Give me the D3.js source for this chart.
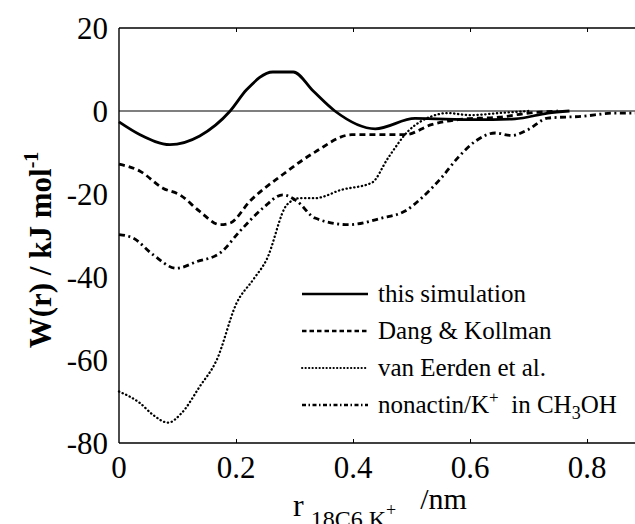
<html lang="en">
<head>
<meta charset="UTF-8">
<title>W(r)</title>
<script src="https://d3js.org/d3.v7.min.js"></script>
<style>
  body { margin: 0; background: #fff; }
  svg { display: block; }
  text { font-family: "Liberation Serif", "Times New Roman", serif; fill: #000; }
</style>
</head>
<body>
<div id="chart"></div>
<script>
// values: r in nm, W(r) in kJ/mol
const simR   = [0, 0.036, 0.087, 0.138, 0.19, 0.218, 0.263, 0.298, 0.332, 0.369, 0.438, 0.506, 0.609, 0.677, 0.733, 0.77];
const simW   = [-2.6, -5.7, -8.1, -6, 0, 5.1, 9.4, 9.4, 4.8, 0, -4.3, -1.8, -2.1, -1.9, -0.5, 0];

const dangR  = [0, 0.036, 0.075, 0.104, 0.138, 0.173, 0.19, 0.224, 0.28, 0.335, 0.398, 0.489, 0.534, 0.592, 0.65, 0.7, 0.75];
const dangW  = [-12.8, -14.5, -18.6, -20.2, -24.2, -27.4, -27, -21.7, -15.3, -9.9, -5.7, -5.7, -3.3, -1.9, -1.5, -0.5, 0];

const eerR   = [0, 0.036, 0.058, 0.084, 0.107, 0.138, 0.167, 0.201, 0.229, 0.252, 0.287, 0.309, 0.335, 0.38, 0.432, 0.46, 0.494, 0.534, 0.562, 0.6, 0.65, 0.7];
const eerW   = [-67.6, -70.4, -73.2, -75.1, -72.8, -66.4, -60, -46.3, -40.7, -35.9, -22.6, -21, -21, -19, -17.3, -11.3, -4.9, -1.3, -0.5, -1, -0.5, 0];

const nonR   = [0, 0.024, 0.058, 0.098, 0.133, 0.173, 0.207, 0.246, 0.28, 0.304, 0.335, 0.392, 0.449, 0.489, 0.517, 0.551, 0.579, 0.609, 0.643, 0.671, 0.699, 0.733, 0.79, 0.848, 0.9];
const nonW   = [-29.8, -30.6, -34.6, -37.9, -36.3, -34.2, -28.9, -23.4, -20.2, -21.7, -25.8, -27.4, -25.8, -24.1, -21, -16.1, -11.3, -7.3, -5.3, -5.9, -4.5, -1.7, -1.3, -0.5, -0.5];

const xTicks = [0, 0.2, 0.4, 0.6, 0.8];
const yTicks = [20, 0, -20, -40, -60, -80];
const seriesNames = ["this simulation", "Dang & Kollman", "van Eerden et al.", "nonactin/K+ in CH3OH"];

const W = 635, H = 524;
const margin = { top: 28, right: 0, bottom: 81, left: 119 };
const width = W - margin.left - margin.right,
      height = H - margin.top - margin.bottom;

const x = d3.scaleLinear().domain([0, 0.882]).range([0, width]);
const y = d3.scaleLinear().domain([-80, 20]).range([height, 0]);

const svg = d3.select("#chart").append("svg")
  .attr("width", W).attr("height", H);
const g = svg.append("g")
  .attr("transform", "translate(" + margin.left + "," + margin.top + ")");

// frame with inward ticks
g.append("g").attr("transform", "translate(0," + height + ")")
  .call(d3.axisTop(x).tickValues(xTicks.slice(1)).tickSize(4).tickFormat(""))
  .call(a => a.select(".domain").attr("d", "M0,0H" + width));
g.append("g")
  .call(d3.axisBottom(x).tickValues(xTicks.slice(1)).tickSize(4).tickFormat(""))
  .call(a => a.select(".domain").attr("d", "M0,0H" + width));
g.append("g")
  .call(d3.axisRight(y).tickValues(yTicks).tickSize(0).tickFormat(""))
  .call(a => a.select(".domain").attr("d", "M0,0V" + height));
g.selectAll(".domain").attr("stroke", "#000").attr("stroke-width", 1.4);
g.selectAll(".tick line").attr("stroke", "#000").attr("stroke-width", 1);

// tick labels
g.selectAll(".xlab").data(xTicks).join("text")
  .attr("x", d => x(d)).attr("y", height + 35)
  .attr("text-anchor", "middle").attr("font-size", 31)
  .text(d => d === 0 ? "0" : d3.format(".1f")(d));
g.selectAll(".ylab").data(yTicks).join("text")
  .attr("x", -11).attr("y", d => y(d) + 11)
  .attr("text-anchor", "end").attr("font-size", 31)
  .text(d => d);

// zero line
g.append("line")
  .attr("x1", 0).attr("x2", width).attr("y1", y(0)).attr("y2", y(0))
  .attr("stroke", "#000").attr("stroke-width", 1.2);

const line = d3.line().x(d => x(d[0])).y(d => y(d[1])).curve(d3.curveMonotoneX);
const styles = [
  { dash: null, w: 2.8, cap: "butt" },
  { dash: "6,4", w: 2.8, cap: "butt" },
  { dash: "0.3,3.6", w: 2.3, cap: "round" },
  { dash: "6,3.5,2,3.5", w: 2.8, cap: "butt" }
];
const legDash = [null, "4.5,3", "0.3,3.2", "4,2.5,1.5,2.5"];
const series = [d3.zip(simR, simW), d3.zip(dangR, dangW), d3.zip(eerR, eerW), d3.zip(nonR, nonW)];

series.forEach((s, i) => {
  g.append("path").datum(s)
    .attr("fill", "none").attr("stroke", "#000")
    .attr("stroke-width", styles[i].w)
    .attr("stroke-linecap", styles[i].cap)
    .attr("stroke-dasharray", styles[i].dash)
    .attr("d", line);
});

// legend
const leg = svg.append("g").attr("transform", "translate(302,294)");
seriesNames.forEach((name, i) => {
  const row = leg.append("g").attr("transform", "translate(0," + (i * 37) + ")");
  row.append("line").attr("x1", 0).attr("x2", 66).attr("y1", 0).attr("y2", 0)
    .attr("stroke", "#000").attr("stroke-width", i === 2 ? 2 : 2.4)
    .attr("stroke-linecap", styles[i].cap)
    .attr("stroke-dasharray", legDash[i]);
  const t = row.append("text").attr("x", 76).attr("y", 8).attr("font-size", 25);
  if (i === 3) {
    t.append("tspan").text("nonactin/K");
    t.append("tspan").attr("dy", -10).attr("font-size", 17).text("+");
    t.append("tspan").attr("dy", 10).text("\u00a0 in CH");
    t.append("tspan").attr("dy", 6).attr("font-size", 18).text("3");
    t.append("tspan").attr("dy", -6).text("OH");
  } else {
    t.text(name);
  }
});

// y title
const yt = svg.append("text")
  .attr("transform", "translate(51,250) rotate(-90)")
  .attr("text-anchor", "middle").attr("font-size", 31).attr("font-weight", "bold");
yt.append("tspan").text("W(r) / kJ mol");
yt.append("tspan").attr("dy", -13).attr("font-size", 20).text("-1");

// x title
const xt = svg.append("text").attr("x", 293).attr("y", 516).attr("font-size", 32);
xt.append("tspan").text("r");
xt.append("tspan").attr("dx", 7).attr("dy", 11).attr("font-size", 24).text("18C6 K");
xt.append("tspan").attr("dy", -11).attr("font-size", 18).text("+");
xt.append("tspan").attr("dx", 24).attr("dy", -7).attr("font-size", 30).text("/nm");
</script>
</body>
</html>
